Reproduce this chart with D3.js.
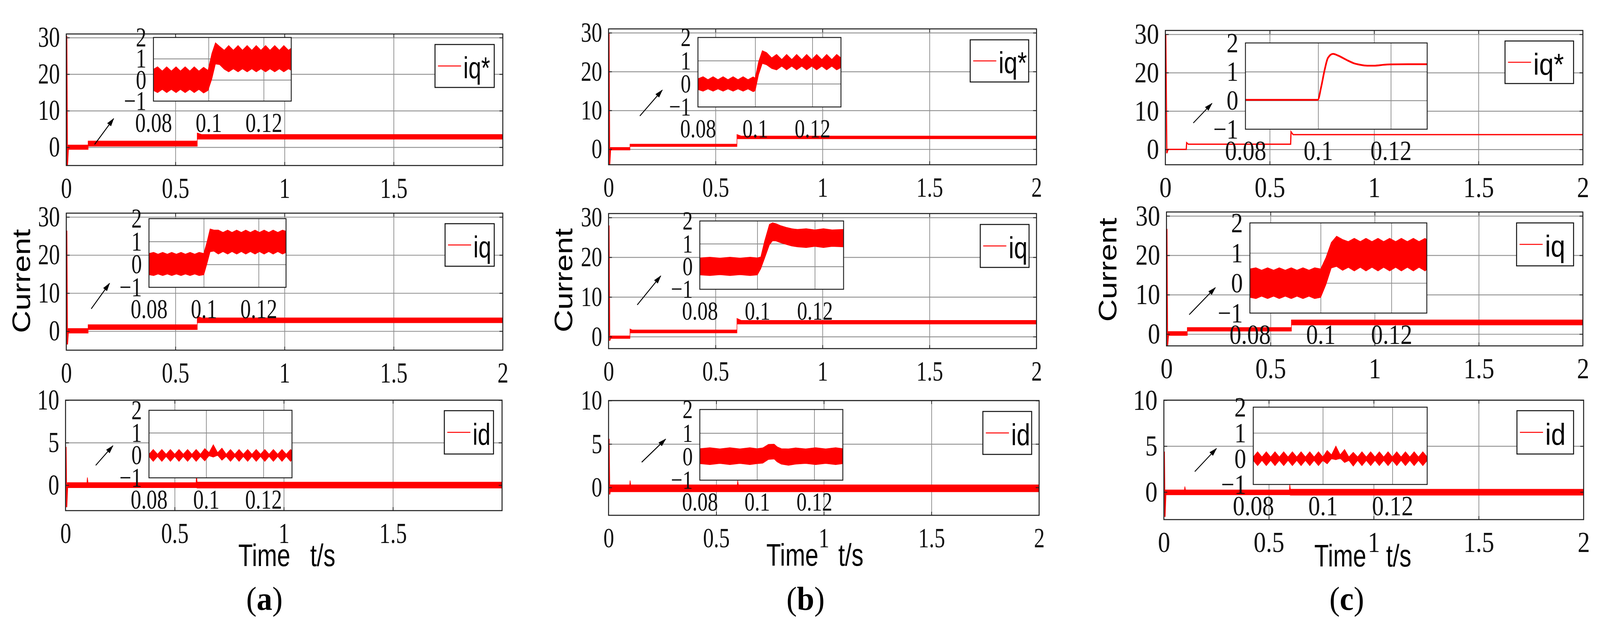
<!DOCTYPE html>
<html>
<head>
<meta charset="utf-8">
<script src="https://cdnjs.cloudflare.com/ajax/libs/d3/7.8.5/d3.min.js"></script>
<style>
  html, body { margin: 0; padding: 0; background: #fff; overflow: hidden; }
  svg { display: block; }
</style>
</head>
<body>
<div id="chart"></div>
<script>
// ---------- tick values ----------
var timeDomain = [0, 2];
var mainXTicks = [0.5, 1, 1.5];
var xLabelsFull = [0, 0.5, 1, 1.5, 2];
var xLabelsShort = [0, 0.5, 1, 1.5];
var qYTicks = [0, 10, 20, 30];
var dYTicks = [0, 5, 10];
var zoomDomain = [0.08, 0.13];
var zoomYDomain = [-1, 2];
var zoomXTicks = [0.08, 0.1, 0.12];
var zoomYTicks = [-1, 0, 1, 2];

// ---------- column (a) : [t, value] spikes, [t, low, high] ripple bands ----------
var aRefSpike = [[0.002, 30.5], [0.005, -5], [0.009, -0.3], [0.013, 0]];
var aRefBand = [[0.008, -0.6, 0.6], [0.1, -0.6, 0.6], [0.1, 0.3, 1.7], [0.6, 0.3, 1.7], [0.6, 2.2, 3.9], [0.62, 2.2, 3.5], [2, 2.2, 3.5]];
var aIqSpike = [[0.002, 26.4], [0.005, -3.5], [0.009, -0.2], [0.013, 0]];
var aIqBand = [[0.008, -0.5, 0.7], [0.1, -0.5, 0.7], [0.1, 0.4, 1.7], [0.6, 0.4, 1.7], [0.6, 2.2, 3.9], [0.62, 2.2, 3.5], [2, 2.2, 3.5]];
var aIdSpike = [[0.002, 4.5], [0.005, -2.6], [0.009, -0.2], [0.013, 0]];
var aIdBand = [[0.008, -0.3, 0.3], [0.098, -0.3, 0.3], [0.1, -0.3, 0.9], [0.103, -0.3, 0.3], [0.598, -0.3, 0.3], [0.6, -0.3, 1.2], [0.603, -0.35, 0.35], [2, -0.35, 0.35]];

var aRefZoom = [
  [0.0800, -0.50, 0.50], [0.0815, -0.60, 0.62], [0.0832, -0.45, 0.42], [0.0848, -0.60, 0.62],
  [0.0865, -0.45, 0.42], [0.0882, -0.60, 0.62], [0.0898, -0.45, 0.42], [0.0915, -0.60, 0.62],
  [0.0932, -0.45, 0.42], [0.0948, -0.60, 0.62], [0.0965, -0.45, 0.42], [0.0982, -0.62, 0.60],
  [0.0998, -0.50, 0.45], [0.1012, 0.05, 1.25], [0.1025, 0.75, 1.75], [0.1040, 0.72, 1.58],
  [0.1057, 0.50, 1.40], [0.1073, 0.38, 1.62], [0.1090, 0.52, 1.40], [0.1107, 0.38, 1.62],
  [0.1123, 0.52, 1.40], [0.1140, 0.38, 1.62], [0.1157, 0.52, 1.40], [0.1173, 0.38, 1.62],
  [0.1190, 0.52, 1.40], [0.1207, 0.38, 1.62], [0.1223, 0.52, 1.40], [0.1240, 0.38, 1.62],
  [0.1257, 0.52, 1.40], [0.1273, 0.38, 1.62], [0.1290, 0.52, 1.40], [0.1300, 0.45, 1.50]
];
var aIqZoom = [
  [0.0800, -0.45, 0.48], [0.0817, -0.49, 0.53], [0.0833, -0.42, 0.45], [0.0850, -0.49, 0.53],
  [0.0867, -0.42, 0.45], [0.0883, -0.49, 0.53], [0.0900, -0.42, 0.45], [0.0917, -0.49, 0.53],
  [0.0933, -0.42, 0.45], [0.0950, -0.49, 0.53], [0.0967, -0.42, 0.45], [0.0983, -0.49, 0.53],
  [0.1000, -0.45, 0.48], [0.1012, 0.05, 1.00], [0.1023, 0.55, 1.55], [0.1037, 0.58, 1.50],
  [0.1053, 0.45, 1.50], [0.1070, 0.56, 1.40], [0.1087, 0.45, 1.50], [0.1103, 0.56, 1.40],
  [0.1120, 0.45, 1.50], [0.1137, 0.56, 1.40], [0.1153, 0.45, 1.50], [0.1170, 0.56, 1.40],
  [0.1187, 0.45, 1.50], [0.1203, 0.56, 1.40], [0.1220, 0.45, 1.50], [0.1237, 0.56, 1.40],
  [0.1253, 0.45, 1.50], [0.1270, 0.56, 1.40], [0.1287, 0.45, 1.50], [0.1300, 0.52, 1.45]
];
var aIdZoom = [
  [0.0800, -0.05, 0.05], [0.0815, -0.27, 0.26], [0.0830, -0.05, 0.05], [0.0845, -0.27, 0.26],
  [0.0860, -0.05, 0.05], [0.0875, -0.27, 0.26], [0.0890, -0.05, 0.05], [0.0905, -0.27, 0.26],
  [0.0920, -0.05, 0.05], [0.0935, -0.27, 0.26], [0.0950, -0.05, 0.05], [0.0965, -0.27, 0.26],
  [0.0980, -0.05, 0.05], [0.0995, -0.25, 0.30], [0.1010, -0.02, 0.12], [0.1025, -0.08, 0.47],
  [0.1040, 0.00, 0.12], [0.1055, -0.22, 0.32], [0.1070, -0.05, 0.05], [0.1085, -0.27, 0.26],
  [0.1100, -0.05, 0.05], [0.1115, -0.27, 0.26], [0.1130, -0.05, 0.05], [0.1145, -0.27, 0.26],
  [0.1160, -0.05, 0.05], [0.1175, -0.27, 0.26], [0.1190, -0.05, 0.05], [0.1205, -0.27, 0.26],
  [0.1220, -0.05, 0.05], [0.1235, -0.27, 0.26], [0.1250, -0.05, 0.05], [0.1265, -0.27, 0.26],
  [0.1280, -0.05, 0.05], [0.1295, -0.27, 0.26], [0.1300, -0.20, 0.20]
];

// ---------- column (b) ----------
var bRefSpike = [[0.002, 30], [0.005, -4], [0.009, -0.3], [0.013, 0]];
var bRefBand = [[0.008, -0.2, 0.45], [0.1, -0.2, 0.45], [0.1, 0.7, 1.3], [0.6, 0.7, 1.3], [0.6, 2.7, 3.8], [0.62, 2.7, 3.4], [2, 2.7, 3.4]];
var bIqSpike = [[0.002, 28], [0.005, -1], [0.009, -0.4], [0.013, 0]];
var bIqBand = [[0.008, -0.45, 0.2], [0.1, -0.45, 0.2], [0.1, 0.95, 1.95], [0.11, 0.95, 1.7], [0.6, 0.95, 1.7], [0.6, 3.2, 4.6], [0.62, 3.2, 4.1], [2, 3.2, 4.1]];
var bIdSpike = [[0.002, 5.6], [0.005, -0.8], [0.009, -0.2], [0.013, 0]];
var bIdBand = [[0.008, -0.5, 0.3], [0.098, -0.5, 0.3], [0.1, -0.5, 0.8], [0.103, -0.5, 0.3], [0.598, -0.5, 0.3], [0.6, -0.5, 0.8], [0.603, -0.5, 0.3], [2, -0.5, 0.3]];

var bRefZoom = [
  [0.0800, -0.25, 0.22], [0.0818, -0.32, 0.31], [0.0835, -0.22, 0.18], [0.0853, -0.32, 0.31],
  [0.0870, -0.22, 0.18], [0.0888, -0.32, 0.31], [0.0905, -0.22, 0.18], [0.0923, -0.32, 0.31],
  [0.0940, -0.22, 0.18], [0.0958, -0.32, 0.31], [0.0975, -0.22, 0.18], [0.0993, -0.34, 0.30],
  [0.1000, -0.30, 0.25], [0.1012, 0.40, 0.95], [0.1025, 0.88, 1.43], [0.1040, 0.82, 1.35],
  [0.1058, 0.66, 1.12], [0.1075, 0.60, 1.27], [0.1093, 0.76, 1.05], [0.1110, 0.60, 1.27],
  [0.1128, 0.76, 1.05], [0.1145, 0.60, 1.27], [0.1163, 0.76, 1.05], [0.1180, 0.60, 1.27],
  [0.1198, 0.76, 1.05], [0.1215, 0.60, 1.27], [0.1233, 0.76, 1.05], [0.1250, 0.60, 1.27],
  [0.1268, 0.76, 1.05], [0.1285, 0.60, 1.27], [0.1300, 0.70, 1.12]
];
var bIqZoom = [
  [0.0800, -0.37, 0.38], [0.0835, -0.40, 0.41], [0.0870, -0.36, 0.37], [0.0905, -0.40, 0.41],
  [0.0940, -0.36, 0.37], [0.0975, -0.40, 0.41], [0.1000, -0.37, 0.38], [0.1012, -0.10, 0.42],
  [0.1025, 0.35, 1.10], [0.1042, 0.95, 1.85], [0.1053, 1.13, 1.92], [0.1065, 1.12, 1.88],
  [0.1080, 1.05, 1.80], [0.1100, 0.97, 1.72], [0.1120, 0.90, 1.66], [0.1140, 0.86, 1.63],
  [0.1170, 0.83, 1.66], [0.1200, 0.88, 1.61], [0.1230, 0.83, 1.66], [0.1260, 0.88, 1.61],
  [0.1300, 0.86, 1.63]
];
var bIdZoom = [
  [0.0800, -0.30, 0.34], [0.0835, -0.34, 0.38], [0.0870, -0.29, 0.33], [0.0905, -0.34, 0.38],
  [0.0940, -0.29, 0.33], [0.0975, -0.34, 0.38], [0.1000, -0.30, 0.34], [0.1020, -0.28, 0.37],
  [0.1040, -0.12, 0.52], [0.1060, -0.10, 0.53], [0.1070, -0.22, 0.42], [0.1085, -0.32, 0.34],
  [0.1110, -0.37, 0.33], [0.1135, -0.32, 0.37], [0.1170, -0.29, 0.33], [0.1205, -0.34, 0.38],
  [0.1240, -0.29, 0.33], [0.1275, -0.34, 0.38], [0.1300, -0.30, 0.34]
];

// ---------- column (c) ----------
var cRefLine = [[0.002, 30], [0.007, -1], [0.013, 0], [0.1, 0], [0.102, 1.75], [0.11, 1.35], [0.6, 1.35], [0.602, 4.6], [0.612, 3.85], [2, 3.85]];
var cIqSpike = [[0.002, 26.7], [0.005, -3], [0.009, -0.3], [0.013, 0]];
var cIqBand = [[0.008, -0.35, 0.65], [0.1, -0.35, 0.65], [0.1, 0.75, 1.65], [0.6, 0.75, 1.65], [0.6, 2.3, 3.6], [2, 2.3, 3.6]];
var cIdSpike = [[0.002, 4.4], [0.005, -2.7], [0.009, -0.2], [0.013, 0]];
var cIdBand = [[0.008, -0.3, 0.23], [0.098, -0.3, 0.23], [0.1, -0.3, 0.6], [0.103, -0.3, 0.23], [0.598, -0.3, 0.23], [0.6, -0.3, 0.85], [0.603, -0.35, 0.3], [2, -0.35, 0.3]];

var cRefZoom = [
  [0.0800, 0.02], [0.0999, 0.02], [0.1008, 0.45], [0.1018, 1.07], [0.1027, 1.48], [0.1041, 1.62],
  [0.1055, 1.56], [0.1078, 1.41], [0.1097, 1.30], [0.1116, 1.24], [0.1135, 1.21], [0.1153, 1.21],
  [0.1190, 1.25], [0.1246, 1.26], [0.1300, 1.26]
];
var cIqZoom = [
  [0.0800, -0.48, 0.47], [0.0817, -0.52, 0.51], [0.0833, -0.44, 0.43], [0.0850, -0.52, 0.51],
  [0.0867, -0.44, 0.43], [0.0883, -0.52, 0.51], [0.0900, -0.44, 0.43], [0.0917, -0.52, 0.51],
  [0.0933, -0.44, 0.43], [0.0950, -0.52, 0.51], [0.0967, -0.44, 0.43], [0.0983, -0.52, 0.51],
  [0.1000, -0.48, 0.47], [0.1015, -0.05, 0.85], [0.1030, 0.50, 1.35], [0.1045, 0.55, 1.56],
  [0.1062, 0.42, 1.45], [0.1078, 0.52, 1.38], [0.1095, 0.40, 1.49], [0.1112, 0.52, 1.38],
  [0.1128, 0.40, 1.49], [0.1145, 0.52, 1.38], [0.1162, 0.40, 1.49], [0.1178, 0.52, 1.38],
  [0.1195, 0.40, 1.49], [0.1212, 0.52, 1.38], [0.1228, 0.40, 1.49], [0.1245, 0.52, 1.38],
  [0.1262, 0.40, 1.49], [0.1278, 0.52, 1.38], [0.1295, 0.40, 1.49], [0.1300, 0.45, 1.44]
];
var cIdZoom = [
  [0.08000, -0.07, 0.07], [0.08125, -0.27, 0.27], [0.08250, -0.07, 0.07], [0.08375, -0.27, 0.27],
  [0.08500, -0.07, 0.07], [0.08625, -0.27, 0.27], [0.08750, -0.07, 0.07], [0.08875, -0.27, 0.27],
  [0.09000, -0.07, 0.07], [0.09125, -0.27, 0.27], [0.09250, -0.07, 0.07], [0.09375, -0.27, 0.27],
  [0.09500, -0.07, 0.07], [0.09625, -0.27, 0.27], [0.09750, -0.07, 0.07], [0.09875, -0.27, 0.27],
  [0.10000, -0.07, 0.07], [0.10125, -0.20, 0.32], [0.10250, 0.00, 0.15], [0.10375, -0.04, 0.49],
  [0.10500, 0.02, 0.15], [0.10625, -0.15, 0.36], [0.10750, -0.07, 0.07], [0.10875, -0.29, 0.25],
  [0.11000, -0.07, 0.07], [0.11125, -0.27, 0.27], [0.11250, -0.07, 0.07], [0.11375, -0.27, 0.27],
  [0.11500, -0.07, 0.07], [0.11625, -0.27, 0.27], [0.11750, -0.07, 0.07], [0.11875, -0.27, 0.27],
  [0.12000, -0.07, 0.07], [0.12125, -0.27, 0.27], [0.12250, -0.07, 0.07], [0.12375, -0.27, 0.27],
  [0.12500, -0.07, 0.07], [0.12625, -0.27, 0.27], [0.12750, -0.07, 0.07], [0.12875, -0.27, 0.27],
  [0.13000, -0.07, 0.07]
];

// ---------- styles and layout ----------
var red = "#ff0000";
var hGrid = "#8e8e8e";
var vGrid = "#777";
var serif = "'Liberation Serif','Times New Roman',serif";
var sans = "'Liberation Sans',Arial,sans-serif";

var columns = [
  { fs: 73, sx: 0.81, lsx: 0.79, current: [81, 720], time: [770, 1450], tag: [710, 1562, "a"] },
  { fs: 71, sx: 0.81, lsx: 0.84, current: [1537, 718], time: [2188, 1449], tag: [2163, 1562, "b"] },
  { fs: 75, sx: 0.88, lsx: 0.9, current: [2998, 691], time: [3659, 1451], tag: [3616, 1562, "c"] }
];

var panels = [
  { col: 0, x0: 178, x1: 1350, y0: 87, y1: 424, yDom: [-5, 31], yTicks: qYTicks, xLabels: xLabelsShort,
    spike: aRefSpike, band: aRefBand, zoomBand: aRefZoom, name: "iq*",
    inset: [412, 782, 96, 259], legend: [1168, 1327, 114, 224], arrow: [254, 370, 305, 304] },
  { col: 0, x0: 178, x1: 1350, y0: 546, y1: 897, yDom: [-5, 31], yTicks: qYTicks, xLabels: xLabelsFull,
    spike: aIqSpike, band: aIqBand, zoomBand: aIqZoom, name: "iq",
    inset: [400, 768, 560, 736], legend: [1195, 1327, 573, 682], arrow: [245, 791, 294, 726] },
  { col: 0, x0: 176, x1: 1348, y0: 1025, y1: 1308, yDom: [-3, 10], yTicks: dYTicks, xLabels: xLabelsShort,
    spike: aIdSpike, band: aIdBand, zoomBand: aIdZoom, name: "id",
    inset: [400, 784, 1051, 1224], legend: [1193, 1325, 1052, 1163], arrow: [257, 1192, 303, 1142] },

  { col: 1, x0: 1634, x1: 2783, y0: 74, y1: 422, yDom: [-4, 31], yTicks: qYTicks, xLabels: xLabelsFull,
    spike: bRefSpike, band: bRefBand, zoomBand: bRefZoom, name: "iq*",
    inset: [1874, 2258, 96, 274], legend: [2605, 2762, 102, 210], arrow: [1718, 297, 1778, 231] },
  { col: 1, x0: 1634, x1: 2783, y0: 547, y1: 893, yDom: [-3, 31], yTicks: qYTicks, xLabels: xLabelsFull,
    spike: bIqSpike, band: bIqBand, zoomBand: bIqZoom, name: "iq",
    inset: [1879, 2265, 566, 741], legend: [2632, 2763, 575, 685], arrow: [1711, 781, 1774, 707] },
  { col: 1, x0: 1634, x1: 2790, y0: 1026, y1: 1320, yDom: [-3.2, 10], yTicks: dYTicks, xLabels: xLabelsFull,
    spike: bIdSpike, band: bIdBand, zoomBand: bIdZoom, name: "id",
    inset: [1879, 2263, 1049, 1230], legend: [2639, 2770, 1054, 1164], arrow: [1723, 1184, 1787, 1125] },

  { col: 2, x0: 3129, x1: 4250, y0: 78, y1: 422, yDom: [-4, 31], yTicks: qYTicks, xLabels: xLabelsFull,
    line: cRefLine, zoomLine: cRefZoom, name: "iq*",
    inset: [3344, 3832, 110, 331], legend: [4041, 4225, 105, 214], arrow: [3204, 315, 3254, 265] },
  { col: 2, x0: 3132, x1: 4250, y0: 543, y1: 886, yDom: [-3, 31], yTicks: qYTicks, xLabels: xLabelsFull,
    spike: cIqSpike, band: cIqBand, zoomBand: cIqZoom, name: "iq",
    inset: [3356, 3831, 571, 802], legend: [4072, 4225, 571, 681], arrow: [3193, 806, 3263, 737] },
  { col: 2, x0: 3125, x1: 4252, y0: 1025, y1: 1331, yDom: [-3, 10], yTicks: dYTicks, xLabels: xLabelsFull,
    spike: cIdSpike, band: cIdBand, zoomBand: cIdZoom, name: "id",
    inset: [3365, 3832, 1043, 1241], legend: [4073, 4225, 1052, 1163], arrow: [3208, 1208, 3266, 1149] }
];

var fmt = function(d) { return String(d).replace("-", "\u2212"); };

// ---------- svg (scaled to whatever the window really is) ----------
var svg = d3.select("#chart").append("svg")
  .attr("viewBox", "0 0 4296 1601")
  .attr("preserveAspectRatio", "none")
  .style("width", "100vw")
  .style("height", "100vh")
  .style("background", "#fff");

svg.append("rect").attr("width", 4296).attr("height", 1601).attr("fill", "#fff");

var defs = svg.append("defs");
defs.append("marker")
  .attr("id", "arrowHead")
  .attr("viewBox", "0 0 10 10")
  .attr("refX", 9)
  .attr("refY", 5)
  .attr("markerUnits", "userSpaceOnUse")
  .attr("markerWidth", 22)
  .attr("markerHeight", 13)
  .attr("preserveAspectRatio", "none")
  .attr("orient", "auto")
  .append("path")
  .attr("d", "M0,0L10,5L0,10Z")
  .attr("fill", "#000");

// squeeze axis tick text horizontally, keeping its anchor point
function squeezeText(sel, col, size) {
  sel.attr("font-family", serif).attr("font-size", size);
  sel.selectAll("text").each(function() {
    var t = d3.select(this);
    var x = +t.attr("x") || 0;
    t.attr("x", x / col.sx)
      .attr("transform", "scale(" + col.sx + ",1)")
      .attr("fill", "#111");
  });
}

function gridLines(g, axis, translate, color, width) {
  g.append("g")
    .attr("transform", translate)
    .call(axis)
    .call(function(s) { s.select(".domain").remove(); })
    .selectAll("line")
    .attr("stroke", color)
    .attr("stroke-width", width);
}

function drawPanel(p, i) {
  var col = columns[p.col];
  var w = p.x1 - p.x0, h = p.y1 - p.y0;
  var x = d3.scaleLinear().domain(timeDomain).range([p.x0, p.x1]);
  var y = d3.scaleLinear().domain(p.yDom).range([p.y1, p.y0]);
  var g = svg.append("g");

  // grid
  gridLines(g, d3.axisBottom(x).tickValues(mainXTicks).tickSize(-h).tickFormat(""),
    "translate(0," + p.y1 + ")", vGrid, 1.6);
  gridLines(g, d3.axisLeft(y).tickValues(p.yTicks).tickSize(-w).tickFormat(""),
    "translate(" + p.x0 + ",0)", hGrid, 2.2);

  // data
  defs.append("clipPath").attr("id", "clipMain" + i)
    .append("rect").attr("x", p.x0).attr("y", p.y0).attr("width", w).attr("height", h);
  var data = g.append("g").attr("clip-path", "url(#clipMain" + i + ")");
  var lineGen = d3.line().x(function(d) { return x(d[0]); }).y(function(d) { return y(d[1]); });
  var areaGen = d3.area()
    .x(function(d) { return x(d[0]); })
    .y0(function(d) { return y(d[1]); })
    .y1(function(d) { return y(d[2]); });

  if (p.band) {
    data.append("path").datum(p.band).attr("d", areaGen)
      .attr("fill", red).attr("stroke", red).attr("stroke-width", 1.5);
  }
  if (p.spike) {
    data.append("path").datum(p.spike).attr("d", lineGen)
      .attr("fill", "none").attr("stroke", red).attr("stroke-width", 3);
  }
  if (p.line) {
    data.append("path").datum(p.line).attr("d", lineGen)
      .attr("fill", "none").attr("stroke", red).attr("stroke-width", 3.2);
  }

  // inner tick marks on all four sides
  gridLines(g, d3.axisLeft(y).tickValues(p.yTicks).tickSize(-9).tickFormat(""),
    "translate(" + p.x0 + ",0)", "#222", 2.2);
  gridLines(g, d3.axisRight(y).tickValues(p.yTicks).tickSize(-9).tickFormat(""),
    "translate(" + p.x1 + ",0)", "#222", 2.2);
  gridLines(g, d3.axisBottom(x).tickValues(mainXTicks).tickSize(-9).tickFormat(""),
    "translate(0," + p.y1 + ")", "#222", 2);
  gridLines(g, d3.axisTop(x).tickValues(mainXTicks).tickSize(-9).tickFormat(""),
    "translate(0," + p.y0 + ")", "#222", 2);

  // box
  g.append("rect")
    .attr("x", p.x0).attr("y", p.y0).attr("width", w).attr("height", h)
    .attr("fill", "none").attr("stroke", "#1c1c1c").attr("stroke-width", 2.6);

  // tick labels
  var yl = g.append("g").attr("transform", "translate(" + p.x0 + ",0)")
    .call(d3.axisLeft(y).tickValues(p.yTicks).tickSize(0).tickPadding(17).tickFormat(fmt));
  yl.select(".domain").remove();
  squeezeText(yl, col, col.fs);

  var xl = g.append("g").attr("transform", "translate(0," + p.y1 + ")")
    .call(d3.axisBottom(x).tickValues(p.xLabels).tickSize(0).tickPadding(58 - 0.37 * col.fs).tickFormat(fmt));
  xl.select(".domain").remove();
  squeezeText(xl, col, col.fs);

  drawInset(p, col, i);
  drawLegend(p, col);

  // arrow pointing at the zoom box
  g.append("line")
    .attr("x1", p.arrow[0]).attr("y1", p.arrow[1])
    .attr("x2", p.arrow[2]).attr("y2", p.arrow[3])
    .attr("stroke", "#000").attr("stroke-width", 2.4)
    .attr("marker-end", "url(#arrowHead)");
}

function drawInset(p, col, i) {
  var ix0 = p.inset[0], ix1 = p.inset[1], iy0 = p.inset[2], iy1 = p.inset[3];
  var w = ix1 - ix0, h = iy1 - iy0;
  var ix = d3.scaleLinear().domain(zoomDomain).range([ix0, ix1]);
  var iy = d3.scaleLinear().domain(zoomYDomain).range([iy1, iy0]);
  var g = svg.append("g");

  g.append("rect").attr("x", ix0).attr("y", iy0).attr("width", w).attr("height", h).attr("fill", "#fff");

  gridLines(g, d3.axisBottom(ix).tickValues([0.1, 0.12]).tickSize(-h).tickFormat(""),
    "translate(0," + iy1 + ")", vGrid, 1.6);
  gridLines(g, d3.axisLeft(iy).tickValues([0, 1]).tickSize(-w).tickFormat(""),
    "translate(" + ix0 + ",0)", hGrid, 2.2);

  defs.append("clipPath").attr("id", "clipZoom" + i)
    .append("rect").attr("x", ix0).attr("y", iy0).attr("width", w).attr("height", h);
  var data = g.append("g").attr("clip-path", "url(#clipZoom" + i + ")");

  if (p.zoomBand) {
    data.append("path").datum(p.zoomBand)
      .attr("d", d3.area()
        .x(function(d) { return ix(d[0]); })
        .y0(function(d) { return iy(d[1]); })
        .y1(function(d) { return iy(d[2]); }))
      .attr("fill", red).attr("stroke", red).attr("stroke-width", 1.5);
  }
  if (p.zoomLine) {
    data.append("path").datum(p.zoomLine)
      .attr("d", d3.line().curve(d3.curveMonotoneX)
        .x(function(d) { return ix(d[0]); })
        .y(function(d) { return iy(d[1]); }))
      .attr("fill", "none").attr("stroke", red).attr("stroke-width", 4.5);
  }

  g.append("rect").attr("x", ix0).attr("y", iy0).attr("width", w).attr("height", h)
    .attr("fill", "none").attr("stroke", "#1c1c1c").attr("stroke-width", 2.4);

  var fs = col.fs - 3;
  var yl = g.append("g").attr("transform", "translate(" + ix0 + ",0)")
    .call(d3.axisLeft(iy).tickValues(zoomYTicks).tickSize(0).tickPadding(19).tickFormat(fmt));
  yl.select(".domain").remove();
  squeezeText(yl, col, fs);

  var xl = g.append("g").attr("transform", "translate(0," + iy1 + ")")
    .call(d3.axisBottom(ix).tickValues(zoomXTicks).tickSize(0).tickPadding(55 - 0.37 * fs).tickFormat(fmt));
  xl.select(".domain").remove();
  squeezeText(xl, col, fs);
}

function drawLegend(p, col) {
  var lx0 = p.legend[0], lx1 = p.legend[1], ly0 = p.legend[2], ly1 = p.legend[3];
  var cy = (ly0 + ly1) / 2;
  var g = svg.append("g");
  g.append("rect").attr("x", lx0).attr("y", ly0).attr("width", lx1 - lx0).attr("height", ly1 - ly0)
    .attr("fill", "#fff").attr("stroke", "#111").attr("stroke-width", 2.6);
  g.append("line").attr("x1", lx0 + 8).attr("x2", lx0 + 70).attr("y1", cy).attr("y2", cy)
    .attr("stroke", red).attr("stroke-width", 2.6);
  g.append("text")
    .attr("transform", "translate(" + (lx0 + 76) + "," + (cy + 32) + ") scale(" + col.lsx + ",1)")
    .attr("font-family", sans).attr("font-size", 78).attr("fill", "#000")
    .text(p.name);
}

panels.forEach(drawPanel);

// column labels
columns.forEach(function(col) {
  svg.append("text")
    .attr("transform", "translate(" + col.current[0] + "," + col.current[1] + ") rotate(-90) scale(1,0.85)")
    .attr("text-anchor", "middle")
    .attr("font-family", sans).attr("font-size", 80).attr("fill", "#000")
    .text("Current");

  svg.append("text")
    .attr("transform", "translate(" + col.time[0] + "," + col.time[1] + ") scale(0.8,1)")
    .attr("text-anchor", "middle")
    .attr("font-family", sans).attr("font-size", 80).attr("fill", "#000")
    .text("Time\u00a0\u00a0 t/s");

  var tag = svg.append("text")
    .attr("x", col.tag[0]).attr("y", col.tag[1])
    .attr("text-anchor", "middle")
    .attr("font-family", serif).attr("font-size", 84).attr("fill", "#000");
  tag.append("tspan").text("(");
  tag.append("tspan").attr("font-weight", "bold").text(col.tag[2]);
  tag.append("tspan").text(")");
});
</script>
</body>
</html>
